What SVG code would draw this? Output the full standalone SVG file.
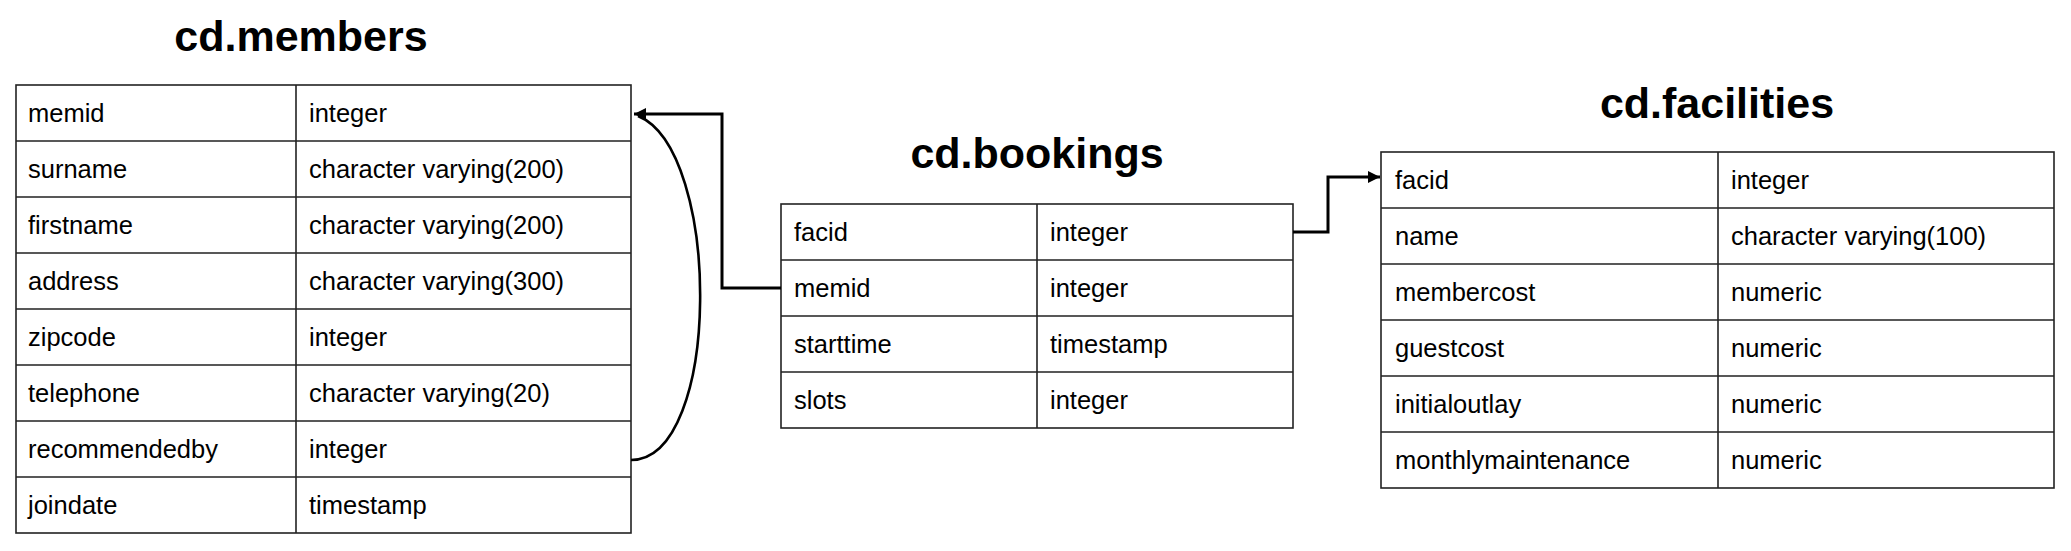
<svg xmlns="http://www.w3.org/2000/svg" width="2071" height="551" viewBox="0 0 2071 551">
<style>
.title{font-family:"Liberation Sans",Arial,sans-serif;font-weight:bold;font-size:43px;fill:#000;text-anchor:middle}
.cell{font-family:"Liberation Sans",Arial,sans-serif;font-size:25.5px;fill:#000}
.grid{fill:#fff;stroke:#222;stroke-width:1.6}
.gl{stroke:#222;stroke-width:1.6;fill:none}
.conn{fill:none;stroke:#000;stroke-width:3}
.curve{fill:none;stroke:#000;stroke-width:2.6}
</style>
<defs>
<marker id="arr" viewBox="0 0 10 10" refX="10" refY="5" markerWidth="5" markerHeight="4" orient="auto" markerUnits="strokeWidth">
<path d="M0,0 L10,5 L0,10 Z" fill="#000"/>
</marker>
</defs>
<rect width="2071" height="551" fill="#fff"/>

<g id="members">
<text class="title" x="301" y="51">cd.members</text>
<rect class="grid" x="16" y="85" width="615" height="448"/>
<path class="gl" d="M296,85V533M16,141H631M16,197H631M16,253H631M16,309H631M16,365H631M16,421H631M16,477H631"/>
<text class="cell" x="28" y="122">memid</text><text class="cell" x="309" y="122">integer</text>
<text class="cell" x="28" y="178">surname</text><text class="cell" x="309" y="178">character varying(200)</text>
<text class="cell" x="28" y="234">firstname</text><text class="cell" x="309" y="234">character varying(200)</text>
<text class="cell" x="28" y="290">address</text><text class="cell" x="309" y="290">character varying(300)</text>
<text class="cell" x="28" y="346">zipcode</text><text class="cell" x="309" y="346">integer</text>
<text class="cell" x="28" y="402">telephone</text><text class="cell" x="309" y="402">character varying(20)</text>
<text class="cell" x="28" y="458">recommendedby</text><text class="cell" x="309" y="458">integer</text>
<text class="cell" x="28" y="514">joindate</text><text class="cell" x="309" y="514">timestamp</text>
</g>

<g id="bookings">
<text class="title" x="1037" y="168">cd.bookings</text>
<rect class="grid" x="781" y="204" width="512" height="224"/>
<path class="gl" d="M1037,204V428M781,260H1293M781,316H1293M781,372H1293"/>
<text class="cell" x="794" y="241">facid</text><text class="cell" x="1050" y="241">integer</text>
<text class="cell" x="794" y="297">memid</text><text class="cell" x="1050" y="297">integer</text>
<text class="cell" x="794" y="353">starttime</text><text class="cell" x="1050" y="353">timestamp</text>
<text class="cell" x="794" y="409">slots</text><text class="cell" x="1050" y="409">integer</text>
</g>

<g id="facilities">
<text class="title" x="1717" y="118">cd.facilities</text>
<rect class="grid" x="1381" y="152" width="673" height="336"/>
<path class="gl" d="M1718,152V488M1381,208H2054M1381,264H2054M1381,320H2054M1381,376H2054M1381,432H2054"/>
<text class="cell" x="1395" y="189">facid</text><text class="cell" x="1731" y="189">integer</text>
<text class="cell" x="1395" y="245">name</text><text class="cell" x="1731" y="245">character varying(100)</text>
<text class="cell" x="1395" y="301">membercost</text><text class="cell" x="1731" y="301">numeric</text>
<text class="cell" x="1395" y="357">guestcost</text><text class="cell" x="1731" y="357">numeric</text>
<text class="cell" x="1395" y="413">initialoutlay</text><text class="cell" x="1731" y="413">numeric</text>
<text class="cell" x="1395" y="469">monthlymaintenance</text><text class="cell" x="1731" y="469">numeric</text>
</g>

<g id="connectors">
<path class="conn" d="M781,288H722V114H634" marker-end="url(#arr)"/>
<path class="curve" d="M631,460C722,460 722,150 638,116"/>
<path class="conn" d="M1293,232H1328V177H1380" marker-end="url(#arr)"/>
</g>
</svg>
